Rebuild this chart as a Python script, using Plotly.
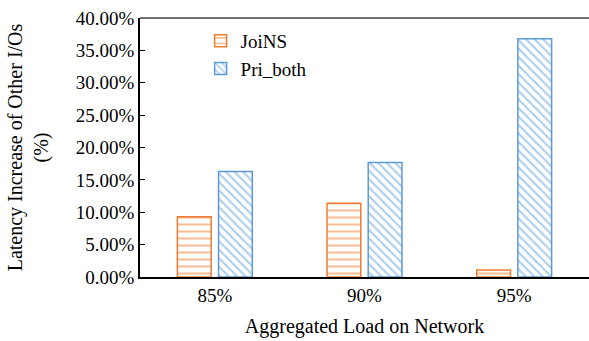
import plotly.graph_objects as go

categories = ["85%", "90%", "95%"]
joins = [9.3, 11.4, 1.1]
pri_both = [16.3, 17.7, 36.8]
y_ticks = [0, 5, 10, 15, 20, 25, 30, 35, 40]
y_tick_labels = ["0.00%", "5.00%", "10.00%", "15.00%", "20.00%", "25.00%", "30.00%", "35.00%", "40.00%"]

FONT = "Times New Roman"
ORANGE = "#ED7D31"
BLUE = "#5B9BD5"

fig = go.Figure()
fig.add_trace(go.Bar(
    x=categories, y=joins, name="JoiNS",
    marker=dict(color="white", line=dict(color=ORANGE, width=1.5),
                pattern=dict(shape="-", fgcolor=ORANGE, bgcolor="white", size=7, solidity=0.3)),
))
fig.add_trace(go.Bar(
    x=categories, y=pri_both, name="Pri_both",
    marker=dict(color="white", line=dict(color=BLUE, width=1.5),
                pattern=dict(shape="\\", fgcolor=BLUE, bgcolor="white", size=6, solidity=0.35)),
))

fig.update_layout(
    width=589, height=341,
    margin=dict(l=140, r=0, t=18, b=64),
    paper_bgcolor="white", plot_bgcolor="white",
    font=dict(family=FONT, size=19, color="black"),
    barmode="group", bargap=0.45, bargroupgap=0.18,
    showlegend=True,
    legend=dict(x=0.135, y=0.985, xanchor="left", yanchor="top",
                bgcolor="rgba(0,0,0,0)", font=dict(family=FONT, size=19),
                itemwidth=30, tracegroupgap=0),
    xaxis=dict(
        showline=True, linecolor="black", linewidth=2, mirror=False,
        ticks="", tickfont=dict(family=FONT, size=19),
        title=dict(text="Aggregated Load on Network", font=dict(family=FONT, size=20), standoff=14),
    ),
    yaxis=dict(
        range=[0, 40], tickvals=y_ticks, ticktext=y_tick_labels,
        showline=True, linecolor="black", linewidth=1.5,
        ticks="inside", ticklen=5, tickcolor="black",
        showgrid=False, zeroline=False,
        tickfont=dict(family=FONT, size=19),
        title=dict(text="Latency Increase of Other I/Os<br>(%)", font=dict(family=FONT, size=20), standoff=22),
    ),
)
fig.add_shape(type="line", xref="paper", yref="paper", x0=0, x1=1, y0=1, y1=1,
              line=dict(color="#404040", width=1.5))

fig.write_html("out.html", post_script="document.body.style.margin='0';",
               config={"displayModeBar": False})
